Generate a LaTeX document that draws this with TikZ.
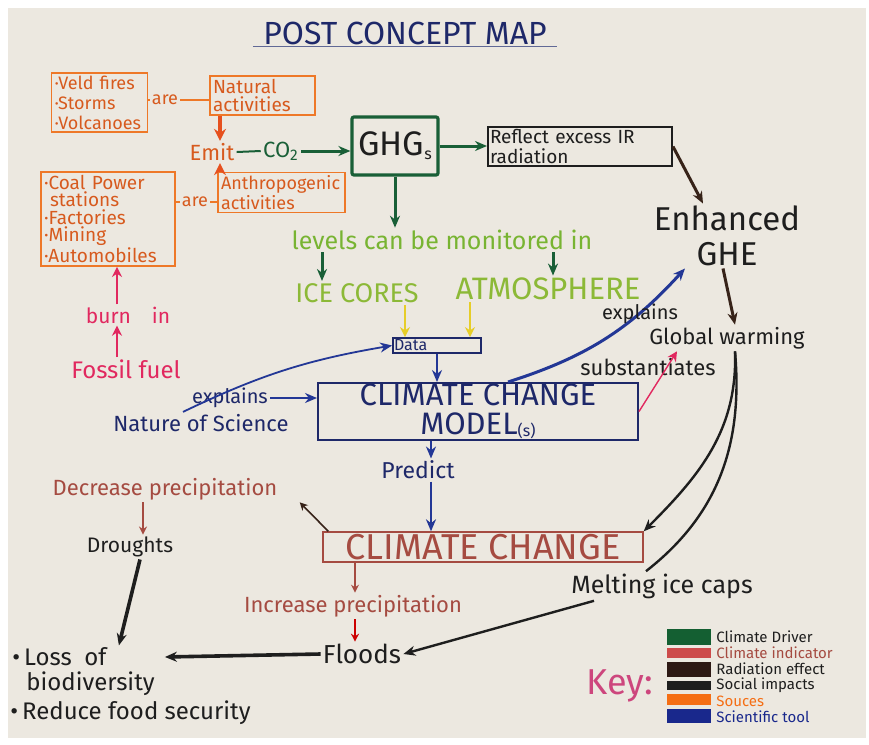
\documentclass[tikz,border=0pt]{standalone}
\usepackage{fontspec}
\setmainfont{Fira Sans}
\usetikzlibrary{arrows.meta,positioning}

\definecolor{paper}{RGB}{236,232,224}
\definecolor{srcorange}{RGB}{238,120,40}
\definecolor{srctxt}{RGB}{215,90,30}
\definecolor{emitred}{RGB}{230,80,30}
\definecolor{driver}{RGB}{25,95,55}
\definecolor{monitor}{RGB}{120,180,50}
\definecolor{icegreen}{RGB}{140,185,55}
\definecolor{datayellow}{RGB}{230,205,40}
\definecolor{tool}{RGB}{30,40,105}
\definecolor{toolarr}{RGB}{35,55,150}
\definecolor{fossil}{RGB}{225,40,95}
\definecolor{indicator}{RGB}{165,75,65}
\definecolor{radiation}{RGB}{55,35,25}
\definecolor{ink}{RGB}{30,30,30}
\definecolor{keymag}{RGB}{205,70,125}
\definecolor{keyred}{RGB}{205,75,75}
\definecolor{keyorange}{RGB}{245,110,20}
\definecolor{keyblue}{RGB}{25,40,140}
\definecolor{keygreen}{RGB}{20,95,50}
\definecolor{keybrown}{RGB}{45,25,20}

\begin{document}
\begin{tikzpicture}[x=0.5pt,y=-0.5pt,
    every node/.style={inner sep=1pt},
    srcbox/.style={draw=srcorange, line width=0.9pt, text=srctxt, align=left, inner sep=1.5pt},
    srctext/.style={text=srctxt, font=\fontsize{9}{9}\selectfont},
    srcarrow/.style={-{Stealth[length=6pt,width=6pt]}, draw=emitred, line width=1.6pt},
    drvbox/.style={draw=driver, line width=1.6pt, rounded corners=1pt},
    drvarrow/.style={-{Stealth[length=6pt,width=5pt]}, draw=driver, line width=1.5pt},
    radbox/.style={draw=ink, line width=1pt, align=left, text=ink, inner sep=1pt},
    radarrow/.style={-{Stealth[length=6pt,width=5pt]}, draw=radiation, line width=1.5pt},
    toolbox/.style={draw=tool, line width=0.9pt, text=tool},
    tooltext/.style={text=tool},
    toolarrow/.style={-{Stealth[length=6pt,width=5pt]}, draw=toolarr, line width=1.3pt},
    dataarrow/.style={-{Stealth[length=5pt,width=5pt]}, draw=datayellow, line width=1.3pt},
    fossiltext/.style={text=fossil},
    fossilarrow/.style={-{Stealth[length=5pt,width=5pt]}, draw=fossil, line width=1.3pt},
    indbox/.style={draw=indicator, line width=0.7pt, text=indicator},
    indtext/.style={text=indicator},
    indarrow/.style={-{Stealth[length=4pt,width=4pt]}, draw=indicator, line width=0.6pt},
    inktext/.style={text=ink},
    impactarrow/.style={-{Stealth[length=6pt,width=5pt]}, draw=ink, line width=1.5pt},
    swatch/.style={minimum width=22pt, inner sep=0pt, draw=none},
    keylabel/.style={anchor=west, inner sep=0pt, font=\fontsize{7.5}{7.5}\selectfont}
  ]
  % paper
  \fill[white] (0,0) rectangle (869,745);
  \fill[paper] (8,8) rectangle (866,738);
  \useasboundingbox (0,0) rectangle (869,745);

  % title
  \node[text=tool, font=\fontsize{16}{16}\selectfont] (title) at (405,33) {POST CONCEPT MAP};
  \draw[tool!70, line width=0.5pt] ([xshift=-4pt]title.south west) -- ([xshift=4pt]title.south east);

  % sources
  \node[srcbox, text width=45pt, minimum height=29.5pt, font=\fontsize{9}{10}\selectfont] (natex) at (99.5,102.5) {·Veld fires\\·Storms\\·Volcanoes};
  \node[srcbox, text width=49.5pt, minimum height=19.5pt, font=\fontsize{9.5}{9}\selectfont] (natural) at (262.5,95.5) {Natural\\activities};
  \node[srctext] (are1) at (165,100) {are};
  \draw[srcorange, line width=0.9pt] (are1 -| natex.east) -- (are1.west) (are1.east) -- (are1 -| natural.west);

  \node[srctext, font=\fontsize{11}{11}\selectfont] (emit) at (212,152) {Emit};
  \coordinate (emitcol) at (220,0);
  \draw[srcarrow] (natural.south -| emitcol) -- (emit.north -| emitcol);

  \node[srcbox, text width=64pt, minimum height=46pt, font=\fontsize{9.5}{8.8}\selectfont] (anthex) at (108,219) {·Coal Power\\\hspace*{3pt}stations\\·Factories\\·Mining\\·Automobiles};
  \node[srcbox, text width=60.5pt, minimum height=17.5pt, font=\fontsize{9}{8.5}\selectfont] (anthro) at (281.5,192.5) {Anthropogenic\\activities};
  \node[srctext] (are2) at (195,202) {are};
  \draw[srcorange, line width=0.9pt] (are2 -| anthex.east) -- (are2.west) (are2.east) -- (are2 -| anthro.west);
  \draw[srcarrow] (anthro.north -| emitcol) -- (emit.south -| emitcol);

  % greenhouse gases
  \node[text=driver, font=\fontsize{11}{11}\selectfont] (co2) at (281,151) {CO\textsubscript{2}};
  \draw[driver, line width=1pt] (emit.east) -- (co2.west);
  \node[drvbox, minimum width=43pt, minimum height=29pt, text=ink, font=\fontsize{17}{17}\selectfont] (ghg) at (395,146) {GHG\raisebox{-2pt}{\fontsize{8}{8}\selectfont s}};
  \draw[drvarrow] (co2.east) -- (co2.east -| ghg.west);
  \node[radbox, text width=90pt, minimum height=16.5pt, font=\fontsize{9.5}{10}\selectfont] (reflect) at (580,146.5) {Reflect excess IR\\radiation};
  \draw[drvarrow] (ghg.east) -- (ghg.east -| reflect.west);
  \node[inktext, align=center, font=\fontsize{16.5}{17.5}\selectfont] (ghe) at (727,236) {Enhanced\\GHE};
  \coordinate (ghein) at ([xshift=-12pt]ghe.north);
  \draw[radarrow] (reflect.east) -- (ghein);

  % fossil fuel
  \coordinate (fcol) at (117,0);
  \node[fossiltext, font=\fontsize{12}{12}\selectfont] (fossil) at (126,369) {Fossil fuel};
  \node[fossiltext, font=\fontsize{10.5}{10.5}\selectfont] (burn) at (128,315) {burn\quad in};
  \draw[fossilarrow] (fossil.north -| fcol) -- (burn.south -| fcol);
  \draw[fossilarrow] (burn.north -| fcol) -- (anthex.south -| fcol);

  % monitoring
  \node[text=monitor, font=\fontsize{12.5}{12.5}\selectfont] (levels) at (442,240) {levels can be monitored in};
  \draw[drvarrow] (ghg.south) -- (ghg.south |- levels.north);
  \node[text=icegreen, font=\fontsize{13.5}{13.5}\selectfont] (icecores) at (357,293) {ICE CORES};
  \node[text=icegreen, font=\fontsize{15.5}{15.5}\selectfont] (atmos) at (548,289) {ATMOSPHERE};
  \coordinate (iccol) at (322,0);
  \coordinate (atcol) at (553,0);
  \draw[drvarrow] (levels.south -| iccol) -- (icecores.north -| iccol);
  \draw[drvarrow] (levels.south -| atcol) -- (atmos.north -| atcol);

  % model
  \node[toolbox, text width=43pt, minimum height=7.5pt, inner sep=0.5pt, align=left, font=\fontsize{8}{8}\selectfont] (data) at (437,345.5) {Data};
  \coordinate (ycol1) at (405,0);
  \coordinate (ycol2) at (470,0);
  \draw[dataarrow] (icecores.south -| ycol1) -- (data.north -| ycol1);
  \draw[dataarrow] (atmos.south -| ycol2) -- (data.north -| ycol2);
  \node[toolbox, line width=1pt, minimum width=160pt, minimum height=28.5pt, align=center, inner sep=0pt, font=\fontsize{15.5}{14.5}\selectfont] (model) at (478,411.5) {CLIMATE CHANGE\\MODEL\raisebox{-1pt}{\fontsize{8}{8}\selectfont (s)}};
  \draw[toolarrow] (data.south) -- (data.south |- model.north);

  \node[tooltext, font=\fontsize{11}{11}\selectfont] (nos) at (201,423) {Nature of Science};
  \node[tooltext, font=\fontsize{10}{10}\selectfont] (explA) at (230,398) {explains};
  \draw[toolarrow, line width=0.9pt] (explA.east) -- (explA.east -| model.west);
  \draw[toolarrow, line width=0.9pt] ([xshift=-9pt]nos.north) to[bend left=8] (data.west);

  \coordinate (mtop) at ([xshift=15pt]model.north);
  \coordinate (gheout) at ([xshift=-21pt]ghe.south);
  \draw[toolarrow, line width=1.5pt] (mtop) to[bend right=15] (gheout);
  \node[inktext, font=\fontsize{10}{10}\selectfont] (explB) at (640,314) {explains};

  % global warming
  \node[inktext, font=\fontsize{11}{11}\selectfont] (gw) at (727,338) {Global warming};
  \draw[radarrow] ([xshift=-2pt]ghe.south) -- ([xshift=4pt]gw.north);
  \node[inktext, font=\fontsize{11}{11}\selectfont] (subst) at (648,367) {substantiates};
  \draw[fossilarrow, line width=0.7pt] (model.east) -- ([xshift=-25pt]gw.south);

  % climate change
  \node[tooltext, font=\fontsize{11.5}{11.5}\selectfont] (pred) at (418,470) {Predict};
  \node[indbox, minimum width=160pt, minimum height=15pt, inner sep=0pt, font=\fontsize{18}{18}\selectfont] (cc) at (483,547) {CLIMATE CHANGE};
  \coordinate (pcol) at (431,0);
  \draw[toolarrow] (model.south -| pcol) -- (pred.north -| pcol);
  \draw[toolarrow] (pred.south -| pcol) -- (cc.north -| pcol);

  \node[inktext, font=\fontsize{12.5}{12.5}\selectfont] (mic) at (662,586) {Melting ice caps};
  \coordinate (gwfork) at ([xshift=4pt]gw.south);
  \draw[impactarrow, line width=1.2pt] (gwfork) to[out=-88,in=45] (cc.north east);
  \draw[ink, line width=1.2pt] (gwfork) to[out=-85,in=38] ([xshift=-8pt]mic.north);

  % impacts
  \node[indtext, font=\fontsize{11}{11}\selectfont] (decr) at (165,489) {Decrease precipitation};
  \draw[indarrow, draw=radiation, line width=0.8pt] ([xshift=3pt]cc.north west) -- ([xshift=10pt]decr.south east);
  \node[inktext, font=\fontsize{10.5}{10.5}\selectfont] (drought) at (130,547) {Droughts};
  \coordinate (dcol) at (143,0);
  \draw[indarrow] (decr.south -| dcol) -- (drought.north -| dcol);

  \node[indtext, font=\fontsize{11}{11}\selectfont] (incr) at (353,606) {Increase precipitation};
  \node[inktext, font=\fontsize{13}{13}\selectfont] (floods) at (362,654) {Floods};
  \coordinate (icol) at (355,0);
  \draw[indarrow] (cc.south -| icol) -- (incr.north -| icol);
  \draw[indarrow, draw=red!80!black, line width=0.9pt] (incr.south -| icol) -- (floods.north -| icol);
  \draw[impactarrow, line width=1.2pt] ([xshift=-34pt]mic.south) -- (floods.east);

  \node[inktext, anchor=west, font=\fontsize{12}{12}\selectfont] (loss) at (10,657) {•\,Loss\ \ of};
  \node[inktext, anchor=west, font=\fontsize{12}{12}\selectfont] (biodiv) at (24,684) {biodiversity};
  \node[inktext, anchor=west, font=\fontsize{12}{12}\selectfont] (food) at (8,713) {•\,Reduce food security};
  \draw[impactarrow, line width=1.8pt] ([xshift=5pt]drought.south) -- ([xshift=5pt]loss.north east);
  \draw[impactarrow, line width=1.8pt] (floods.west) -- ([xshift=28pt]loss.east);

  % key
  \node[text=keymag, font=\fontsize{18}{18}\selectfont] (key) at (620,686) {Key:};
  \foreach \i/\sy/\sh/\sc/\ly/\lc/\lt in {
      1/637/8/keygreen/637/ink/Climate Driver,
      2/653/5/keyred/653/indicator/Climate indicator,
      3/669/7.5/keybrown/669/ink/Radiation effect,
      4/685/4.5/ink/685/ink/Social impacts,
      5/699/5.5/keyorange/701/keyorange/Souces,
      6/716/7/keyblue/717/keyblue/Scientific tool} {
    \node[swatch, fill=\sc, minimum height=\sh pt] (sw\i) at (689,\sy) {};
    \node[keylabel, text=\lc] (kl\i) at (716,\ly) {\lt};
  }
\end{tikzpicture}
\end{document}
